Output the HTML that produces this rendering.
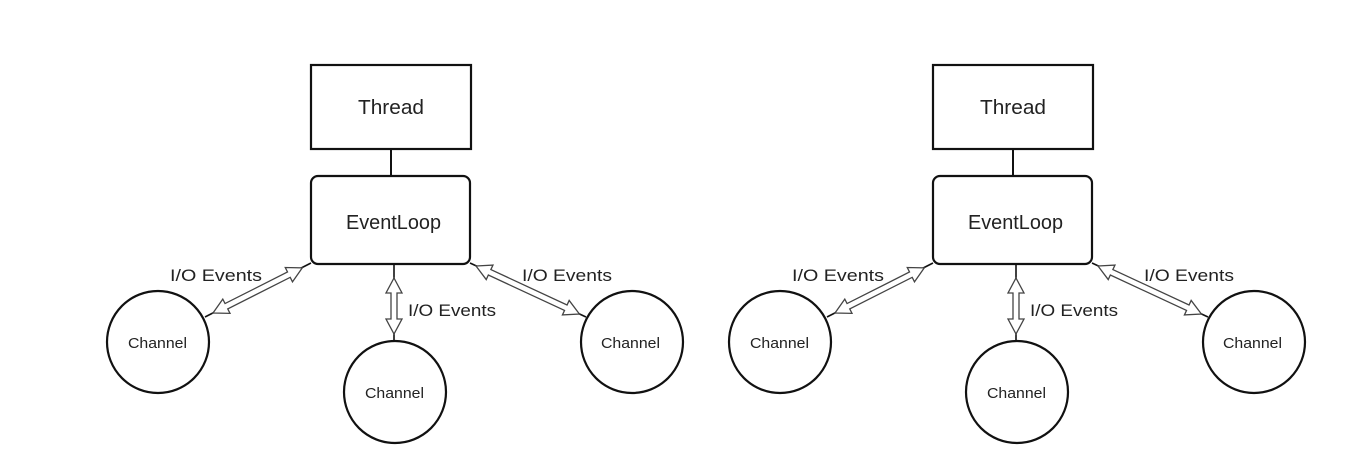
<!DOCTYPE html>
<html><head><meta charset="utf-8"><style>
html,body{margin:0;padding:0;background:#fff;}
svg{display:block;}
text{font-family:"Liberation Sans",sans-serif;fill:#222;}
</style></head><body>
<svg width="1361" height="454" viewBox="0 0 1361 454" xmlns="http://www.w3.org/2000/svg">
<defs>
<g id="d">
  <rect x="311" y="65" width="160" height="84" fill="#fff" stroke="#111" stroke-width="2.2"/>
  <text x="358" y="114" font-size="20" textLength="66" lengthAdjust="spacingAndGlyphs">Thread</text>
  <line x1="391" y1="149" x2="391" y2="176" stroke="#111" stroke-width="2"/>
  <rect x="311" y="176" width="159" height="88" rx="7" fill="#fff" stroke="#111" stroke-width="2.2"/>
  <text x="346" y="229" font-size="20" textLength="95" lengthAdjust="spacingAndGlyphs">EventLoop</text>
  <circle cx="158" cy="342" r="51" fill="#fff" stroke="#111" stroke-width="2.2"/>
  <text x="128" y="348" font-size="15" textLength="59" lengthAdjust="spacingAndGlyphs">Channel</text>
  <circle cx="395" cy="392" r="51" fill="#fff" stroke="#111" stroke-width="2.2"/>
  <text x="365" y="398" font-size="15" textLength="59" lengthAdjust="spacingAndGlyphs">Channel</text>
  <circle cx="632" cy="342" r="51" fill="#fff" stroke="#111" stroke-width="2.2"/>
  <text x="601" y="348" font-size="15" textLength="59" lengthAdjust="spacingAndGlyphs">Channel</text>
  <line x1="205" y1="317" x2="311" y2="263" stroke="#111" stroke-width="1.6"/>
  <path transform="translate(213,313) rotate(-26.8)" d="M0,0 L15,-8 L15,-3 L85,-3 L85,-8 L100,0 L85,8 L85,3 L15,3 L15,8 Z" fill="#fff" stroke="#444" stroke-width="1.3"/>
  <line x1="394" y1="264" x2="394" y2="341" stroke="#111" stroke-width="1.6"/>
  <path transform="translate(394,278) rotate(90)" d="M0,0 L15,-8 L15,-3 L41,-3 L41,-8 L56,0 L41,8 L41,3 L15,3 L15,8 Z" fill="#fff" stroke="#444" stroke-width="1.3"/>
  <line x1="470" y1="263" x2="586" y2="317" stroke="#111" stroke-width="1.6"/>
  <path transform="translate(476,266) rotate(24.9)" d="M0,0 L15,-8 L15,-3 L99,-3 L99,-8 L114,0 L99,8 L99,3 L15,3 L15,8 Z" fill="#fff" stroke="#444" stroke-width="1.3"/>
  <text x="170" y="281" font-size="17" textLength="92" lengthAdjust="spacingAndGlyphs">I/O Events</text>
  <text x="408" y="316" font-size="17" textLength="88" lengthAdjust="spacingAndGlyphs">I/O Events</text>
  <text x="522" y="281" font-size="17" textLength="90" lengthAdjust="spacingAndGlyphs">I/O Events</text>
</g>
</defs>
<use href="#d"/>
<use href="#d" transform="translate(622,0)"/>
</svg>
</body></html>
